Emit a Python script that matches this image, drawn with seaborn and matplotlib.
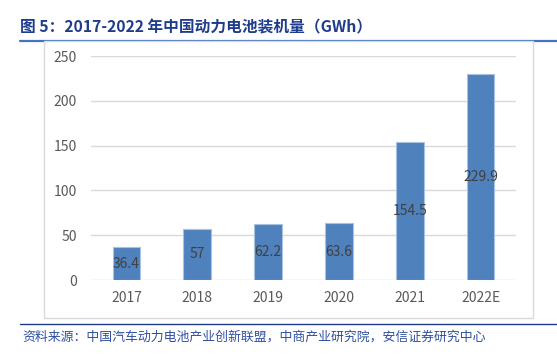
import matplotlib
matplotlib.use("Agg")
import matplotlib.pyplot as plt
import seaborn as sns
import pandas as pd
from matplotlib.patches import Rectangle
from matplotlib.lines import Line2D

# ---- data ----
years = ["2017", "2018", "2019", "2020", "2021", "2022E"]
capacity_gwh = [36.4, 57, 62.2, 63.6, 154.5, 229.9]
y_ticks = [0, 50, 100, 150, 200, 250]

TITLE = "图 5：2017-2022 年中国动力电池装机量（GWh）"
SOURCE = "资料来源：中国汽车动力电池产业创新联盟，中商产业研究院，安信证券研究中心"

sns.set_theme(style="white")
plt.rcParams["font.family"] = ["Noto Sans CJK SC", "DejaVu Sans"]

df = pd.DataFrame({"year": years, "gwh": capacity_gwh})

fig = plt.figure(figsize=(5.57, 3.56), dpi=100)
W, H = 557, 356

# header / footer rules (drawn under the chart frame)
fig.add_artist(Line2D([20 / W, 1], [1 - 41 / H] * 2, color="#4472C4", lw=1.6,
                      transform=fig.transFigure, zorder=-3))
fig.add_artist(Line2D([20 / W, 1], [1 - 324 / H] * 2, color="#1F3D8C", lw=1.0,
                      transform=fig.transFigure, zorder=-3))

# white chart frame
fig.add_artist(Rectangle((44 / W, 1 - 318 / H), 489 / W, 277 / H,
                         transform=fig.transFigure, facecolor="white",
                         edgecolor="#D9D9D9", lw=1.0, zorder=-2))

fig.text(20 / W, 1 - 27 / H, TITLE, fontsize=11.3, fontweight="bold",
         color="#1F3D8C", va="center", ha="left")
fig.text(22 / W, 1 - 337 / H, SOURCE, fontsize=9.3, style="italic",
         color="#2F4F9F", va="center", ha="left")

ax = fig.add_axes([91 / W, 1 - 280 / H, 425 / W, 224 / H])
ax.patch.set_alpha(0)
sns.barplot(data=df, x="year", y="gwh", color="#4F81BD", width=0.39,
            edgecolor="#A9C1E3", linewidth=0.8, saturation=1, ax=ax)

ax.bar_label(ax.containers[0], labels=[f"{v:g}" for v in capacity_gwh],
             label_type="center", fontsize=10, color="#404040")

ax.set_ylim(0, 250)
ax.set_xlim(-0.5, len(years) - 0.5)
ax.set_yticks(y_ticks)
ax.yaxis.grid(True, color="#D9D9D9", lw=1.0)
ax.set_axisbelow(True)
for s in ax.spines.values():
    s.set_visible(False)
ax.set_xlabel("")
ax.set_ylabel("")
ax.tick_params(axis="y", length=0, pad=10, labelsize=10, labelcolor="#595959")
ax.tick_params(axis="x", length=0, pad=8, labelsize=10, labelcolor="#595959")

fig.savefig("out.png", dpi=100)
